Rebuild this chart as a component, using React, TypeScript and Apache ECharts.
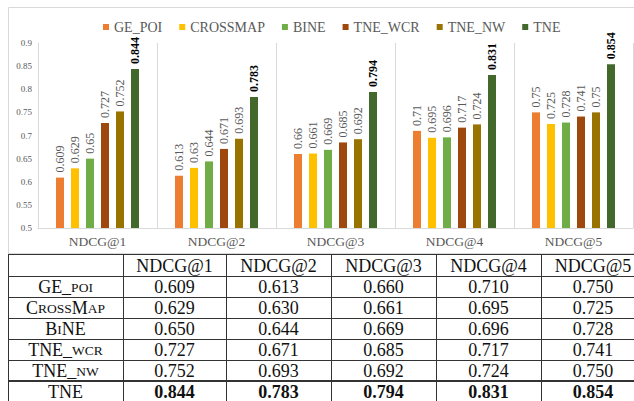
import React, { useEffect, useRef } from "react";
import * as echarts from "echarts";

const categories = ["NDCG@1", "NDCG@2", "NDCG@3", "NDCG@4", "NDCG@5"];
const seriesNames = ["GE_POI", "CROSSMAP", "BINE", "TNE_WCR", "TNE_NW", "TNE"];
const gePoi = [0.609, 0.613, 0.66, 0.71, 0.75];
const crossMap = [0.629, 0.63, 0.661, 0.695, 0.725];
const bine = [0.65, 0.644, 0.669, 0.696, 0.728];
const tneWcr = [0.727, 0.671, 0.685, 0.717, 0.741];
const tneNw = [0.752, 0.693, 0.692, 0.724, 0.75];
const tne = [0.844, 0.783, 0.794, 0.831, 0.854];
const seriesValues = [gePoi, crossMap, bine, tneWcr, tneNw, tne];
const seriesColors = ["#ED7D31", "#FFC000", "#70AD47", "#9E480E", "#997300", "#43682B"];
const yMin = 0.5;
const yMax = 0.9;
const yStep = 0.05;
// table row labels in small caps: [text, isSmallCap]
const tableRowLabels: [string, boolean][][] = [
  [["GE_", false], ["POI", true]],
  [["C", false], ["ROSS", true], ["M", false], ["AP", true]],
  [["B", false], ["I", true], ["NE", false]],
  [["TNE_", false], ["WCR", true]],
  [["TNE_", false], ["NW", true]],
  [["TNE", false]],
];

const SERIF = "Liberation Serif";
const TABLE_SIZE = 18;
const SC_SIZE = 13.5;

export default function App() {
  const ref = useRef<HTMLDivElement>(null);
  useEffect(() => {
    if (!ref.current) return;
    const chart = echarts.init(ref.current, undefined, { renderer: "svg" });

    const ctx = document.createElement("canvas").getContext("2d");
    const measure = (t: string, size: number) => {
      if (!ctx) return t.length * size * 0.6;
      ctx.font = size + "px " + SERIF;
      return ctx.measureText(t).width;
    };

    const colX = [8, 123, 226, 331, 436, 541, 645];
    const rowY = [254, 276, 297, 318, 339, 360, 381, 402];
    const graphics: any[] = [];
    graphics.push({
      type: "rect",
      silent: true,
      z: -10,
      shape: { x: 8.5, y: 7.5, width: 640, height: 246 },
      style: { fill: "none", stroke: "#D9D9D9", lineWidth: 1 },
    });
    graphics.push({
      type: "rect",
      silent: true,
      shape: { x: 8, y: 254, width: 640, height: 150 },
      style: { fill: "#fff" },
    });
    rowY.forEach((y, i) => {
      const w = i === 6 ? 2 : 1;
      const yy = w === 1 ? y + 0.5 : y;
      graphics.push({
        type: "line",
        silent: true,
        shape: { x1: 8, y1: yy, x2: 645, y2: yy },
        style: { stroke: "#333", lineWidth: w },
      });
    });
    colX.forEach((x) => {
      graphics.push({
        type: "line",
        silent: true,
        shape: { x1: x + 0.5, y1: 254, x2: x + 0.5, y2: 402 },
        style: { stroke: "#333", lineWidth: 1 },
      });
    });
    const colCenter = (c: number) => (colX[c] + colX[c + 1]) / 2;
    const rowCenter = (r: number) => (rowY[r] + rowY[r + 1]) / 2 + 0.5;
    categories.forEach((cat, j) => {
      graphics.push({
        type: "text",
        silent: true,
        x: colCenter(j + 1),
        y: rowCenter(0),
        style: {
          text: cat,
          fill: "#111",
          fontSize: TABLE_SIZE,
          fontFamily: SERIF,
          align: "center",
          verticalAlign: "middle",
        },
      });
    });
    tableRowLabels.forEach((segs, i) => {
      const widths = segs.map(([t, sc]) => measure(t, sc ? SC_SIZE : TABLE_SIZE));
      const total = widths.reduce((a, b) => a + b, 0);
      let x = colCenter(0) - total / 2;
      segs.forEach(([t, sc], k) => {
        const size = sc ? SC_SIZE : TABLE_SIZE;
        graphics.push({
          type: "text",
          silent: true,
          x,
          y: rowCenter(i + 1) + (sc ? 0.2 * (TABLE_SIZE - SC_SIZE) : 0),
          style: {
            text: t,
            fill: "#111",
            fontSize: size,
            fontFamily: SERIF,
            align: "left",
            verticalAlign: "middle",
          },
        });
        x += widths[k];
      });
      seriesValues[i].forEach((v, j) => {
        graphics.push({
          type: "text",
          silent: true,
          x: colCenter(j + 1),
          y: rowCenter(i + 1),
          style: {
            text: v.toFixed(3),
            fill: "#111",
            fontSize: TABLE_SIZE,
            fontWeight: i === 5 ? "bold" : "normal",
            fontFamily: SERIF,
            align: "center",
            verticalAlign: "middle",
          },
        });
      });
    });

    const option: any = {
      animation: false,
      backgroundColor: "#fff",
      color: seriesColors,
      textStyle: { fontFamily: SERIF },
      legend: {
        data: seriesNames,
        left: 98,
        top: 15,
        icon: "rect",
        itemWidth: 6,
        itemHeight: 6,
        itemGap: 17,
        textStyle: { fontFamily: SERIF, fontSize: 14, color: "#595959" },
      },
      grid: { left: 38, right: 1, top: 43, bottom: 173, containLabel: false },
      xAxis: {
        type: "category",
        data: categories,
        axisTick: { show: false },
        axisLine: { lineStyle: { color: "#D9D9D9", width: 1 } },
        splitLine: { show: true, lineStyle: { color: "#D9D9D9", width: 1 } },
        axisLabel: { fontFamily: SERIF, fontSize: 13.5, color: "#595959", margin: 6 },
      },
      yAxis: {
        type: "value",
        min: yMin,
        max: yMax,
        interval: yStep,
        splitLine: { show: false },
        axisTick: { show: false },
        axisLine: { show: true, lineStyle: { color: "#D9D9D9", width: 1 } },
        axisLabel: {
          fontFamily: SERIF,
          fontSize: 9,
          color: "#595959",
          margin: 6,
          formatter: (v: number) => String(+v.toFixed(2)),
        },
      },
      series: seriesNames.map((name, i) => ({
        name,
        type: "bar",
        data: seriesValues[i],
        barWidth: 8,
        barGap: "87.5%",
        itemStyle: { color: seriesColors[i] },
        label: {
          show: true,
          position: "top",
          rotate: 90,
          align: "left",
          verticalAlign: "middle",
          distance: 5,
          fontFamily: SERIF,
          fontSize: 12,
          fontWeight: i === 5 ? "bold" : "normal",
          color: i === 5 ? "#000" : "#595959",
        },
      })),
      graphic: graphics,
    };
    chart.setOption(option);
    return () => chart.dispose();
  }, []);
  return (
    <div
      ref={ref}
      style={{ position: "absolute", left: 0, top: 0, width: 634, height: 401 }}
    />
  );
}
